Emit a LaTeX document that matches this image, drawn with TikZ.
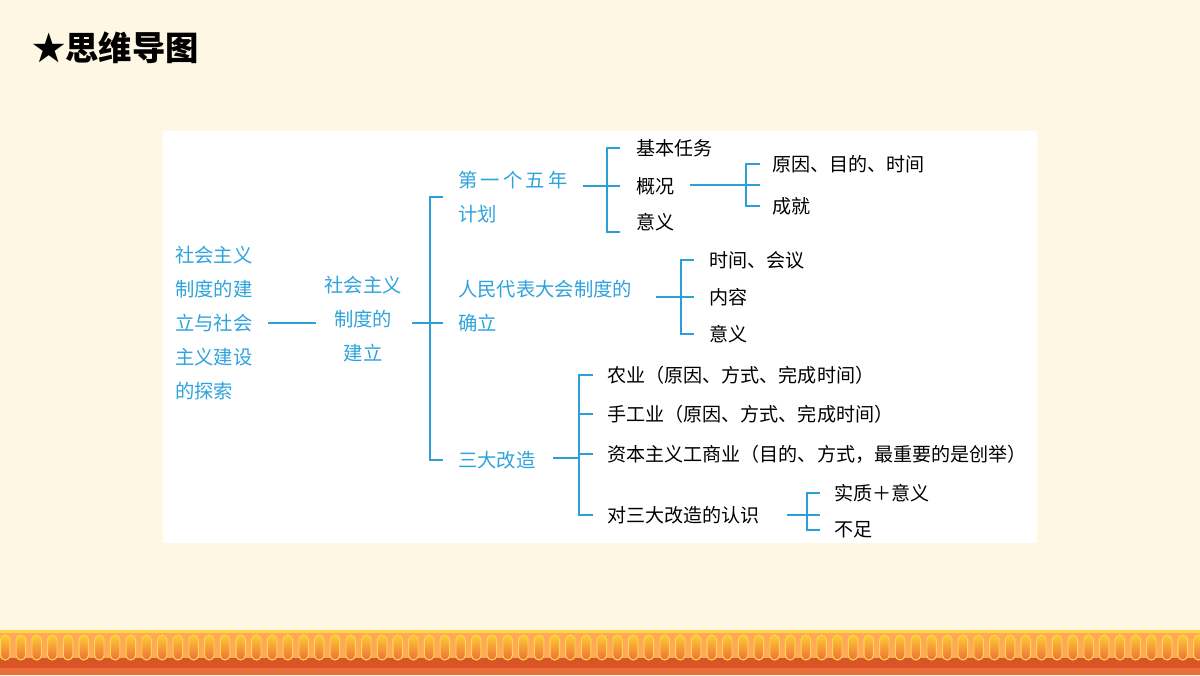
\documentclass[tikz,border=0pt]{standalone}
\usepackage{fontspec}
\newfontfamily\cjk{Noto Sans CJK SC}
\definecolor{bg}{HTML}{FDF7E4}
\definecolor{ln}{HTML}{2A9FD8}
\definecolor{bt}{HTML}{2EA3DC}
\definecolor{oa}{HTML}{FFA85A}
\definecolor{ob}{HTML}{D85528}
\definecolor{oc}{HTML}{EC6F3A}
\definecolor{gy}{HTML}{FFD54A}
\begin{document}
\begin{tikzpicture}[x=0.75pt,y=-0.75pt,
  bl/.style={font=\cjk\fontsize{14.5}{22}\selectfont,text=bt,anchor=west,inner sep=0pt,align=left},
  bk/.style={font=\cjk\fontsize{14.3}{22}\selectfont,text=black,anchor=west,inner sep=0pt},
  br/.style={draw=ln,line width=1.2pt}]
\useasboundingbox (0,0) rectangle (1200,675);
\fill[bg] (0,0) rectangle (1200,675);
\fill[white] (163,131) rectangle (1037,543);
% bottom border
\fill[oa] (0,630) rectangle (1200,660);
\fill[gy] (0,630) rectangle (1200,633);
\fill[ob] (0,658) rectangle (1200,668);
\fill[oc] (0,668) rectangle (1200,675);
\foreach \i in {0,...,76} {
  \fill[draw=gy,line width=0.8pt,top color=oa!60!yellow,bottom color=oc,rounded corners=3.5pt]
    ({\i*15.7+0.5},635) rectangle ({\i*15.7+10},660);
}
\node[font=\cjk\bfseries\fontsize{25}{28}\selectfont,anchor=west,inner sep=0pt] (title) at (32,48) {★思维导图};
% root
\node[bl,font=\cjk\fontsize{14.5}{25.5}\selectfont] (root) at (175,323) {社会主义\\制度的建\\立与社会\\主义建设\\的探索};
\node[bl,align=center,anchor=center,font=\cjk\fontsize{14.5}{25.5}\selectfont] (n2) at (363,319) {社会主义\\制度的\\建立};
\coordinate (r1) at (268,323); \coordinate (r2) at (316,323);
\draw[br] (r1) -- (r2);
\draw[br] (412,323) -- (443,323);
\draw[br] (443,197) -- (430,197) -- (430,460) -- (443,460);
% first five-year plan
\node[bl,font=\cjk\fontsize{14.5}{25}\selectfont] (f) at (458,197) {第\,一\,个\,五\,年\\计划};
\draw[br] (583,186) -- (620,186);
\draw[br] (620,148) -- (607,148) -- (607,232) -- (620,232);
\node[bk] (f1) at (636,148) {基本任务};
\node[bk] (f2) at (636,186) {概况};
\node[bk] (f3) at (636,222) {意义};
\draw[br] (690,185) -- (760,185);
\draw[br] (760,164) -- (746,164) -- (746,206) -- (760,206);
\node[bk] (g1) at (772,164) {原因、目的、时间};
\node[bk] (g2) at (772,206) {成就};
% people's congress
\node[bl,font=\cjk\fontsize{14.5}{25}\selectfont] (p) at (458,306) {人民代表大会制度的\\确立};
\draw[br] (656,297) -- (694,297);
\draw[br] (694,260) -- (681,260) -- (681,334) -- (694,334);
\node[bk] (p1) at (709,260) {时间、会议};
\node[bk] (p2) at (709,297) {内容};
\node[bk] (p3) at (709,334) {意义};
% three transformations
\node[bl] (s) at (458,460) {三大改造};
\draw[br] (553,458) -- (579,458);
\draw[br] (593,375) -- (579,375) -- (579,515) -- (593,515);
\draw[br] (579,414) -- (593,414);
\draw[br] (579,454) -- (593,454);
\node[bk] (s1) at (607,375) {农业（原因、方式、完成时间）};
\node[bk] (s2) at (607,414) {手工业（原因、方式、完成时间）};
\node[bk] (s3) at (607,454) {资本主义工商业（目的、方式，最重要的是创举）};
\node[bk] (s4) at (607,515) {对三大改造的认识};
\draw[br] (787,515) -- (820,515);
\draw[br] (820,493) -- (807,493) -- (807,530) -- (820,530);
\node[bk] (t1) at (834,493) {实质＋意义};
\node[bk] (t2) at (834,530) {不足};
\end{tikzpicture}
\end{document}
